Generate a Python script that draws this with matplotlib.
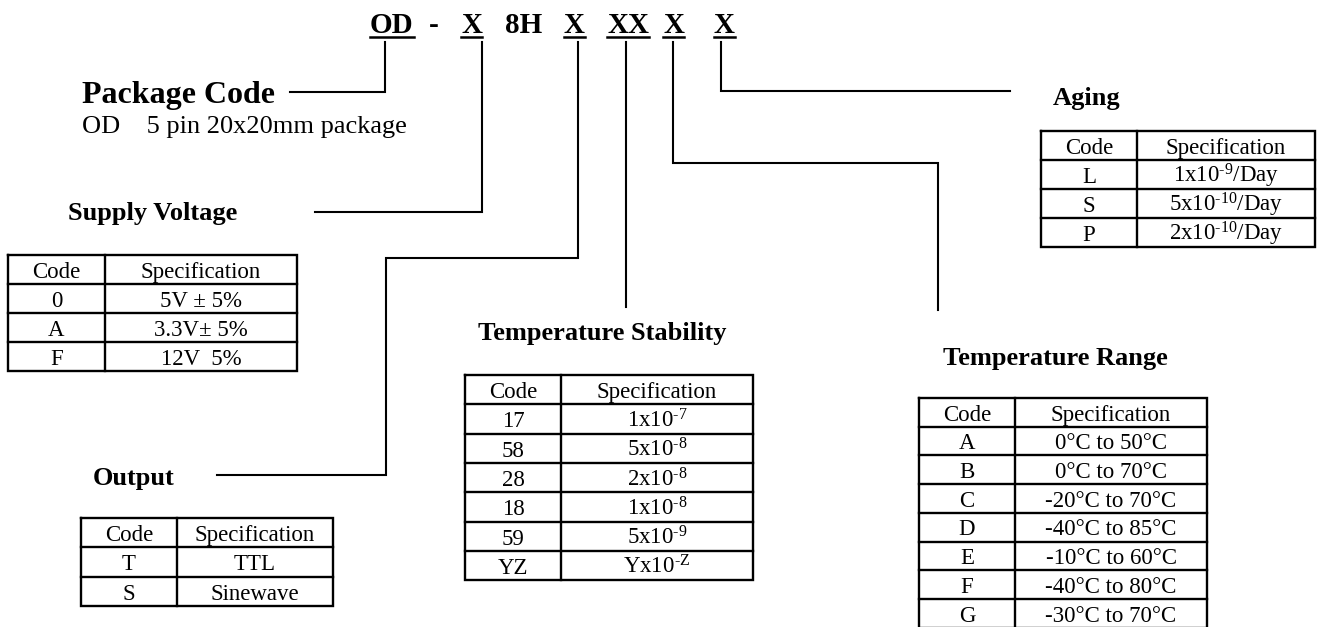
import matplotlib
matplotlib.use("Agg")
import matplotlib.pyplot as plt

plt.rcParams['font.family'] = ['Liberation Serif', 'DejaVu Serif']
plt.rcParams['mathtext.fontset'] = 'custom'
plt.rcParams['mathtext.rm'] = 'Liberation Serif'
plt.rcParams['mathtext.it'] = 'Liberation Serif:italic'
plt.rcParams['mathtext.bf'] = 'Liberation Serif:bold'

W, H = 1325, 627

# part number pieces and which ones are underlined
code_parts = ["OD", "-", "X", "8H", "X", "XX", "X", "X"]
code_underlined = [True, False, True, False, True, True, True, True]

package_title = "Package Code"
package_desc = "OD    5 pin 20x20mm package"

header = ["Code", "Specification"]

supply_codes = ["0", "A", "F"]
supply_specs = ["5V \u00b1 5%", "3.3V\u00b1 5%", "12V  5%"]

output_codes = ["T", "S"]
output_specs = ["TTL", "Sinewave"]

# superscript hyphen written as U+2010 so mathtext keeps it short
stab_codes = ["17", "58", "28", "18", "59", "YZ"]
stab_specs = ["1x10$^{\u20107}$", "5x10$^{\u20108}$", "2x10$^{\u20108}$",
              "1x10$^{\u20108}$", "5x10$^{\u20109}$", "Yx10$^{\u2010\\mathrm{Z}}$"]

range_codes = ["A", "B", "C", "D", "E", "F", "G"]
range_specs = ["0\u00b0C to 50\u00b0C", "0\u00b0C to 70\u00b0C",
               "-20\u00b0C to 70\u00b0C", "-40\u00b0C to 85\u00b0C",
               "-10\u00b0C to 60\u00b0C", "-40\u00b0C to 80\u00b0C",
               "-30\u00b0C to 70\u00b0C"]

aging_codes = ["L", "S", "P"]
aging_specs = ["1x10$^{\u20109}$/Day", "5x10$^{\u201010}$/Day",
               "2x10$^{\u201010}$/Day"]


def draw_table(ax, x0, xc, x1, y0, rh, codes, specs, fs=16.5):
    rows = [header] + [[c, s] for c, s in zip(codes, specs)]
    y1 = y0 + rh * len(rows)
    lw = 1.7
    ax.plot([x0, x1, x1, x0, x0], [y0, y0, y1, y1, y0], color='black', lw=lw,
            solid_joinstyle='miter')
    ax.plot([xc, xc], [y0, y1], color='black', lw=lw)
    for i in range(1, len(rows)):
        y = y0 + i * rh
        ax.plot([x0, x1], [y, y], color='black', lw=lw)
    for i, (c, s) in enumerate(rows):
        yb = y0 + i * rh + 0.79 * rh
        ax.text((x0 + xc) / 2, yb, c, ha='center', va='baseline', fontsize=fs)
        ax.text((xc + x1) / 2, yb, s, ha='center', va='baseline', fontsize=fs)


def main():
    fig = plt.figure(figsize=(W / 100, H / 100), dpi=100)
    ax = fig.add_axes([0, 0, 1, 1])
    ax.set_xlim(0, W)
    ax.set_ylim(H, 0)
    ax.axis('off')

    # part number along the top
    part_x = [370, 429, 461, 505, 564, 607, 663, 714]
    texts = []
    for x, p in zip(part_x, code_parts):
        texts.append(ax.text(x, 33, p, ha='left', va='baseline',
                             fontsize=21, fontweight='bold'))
    fig.canvas.draw()
    renderer = fig.canvas.get_renderer()
    inv = ax.transData.inverted()
    for t, u in zip(texts, code_underlined):
        if u:
            bb = t.get_window_extent(renderer)
            (xa, _), (xb, _) = inv.transform([[bb.x0, 0], [bb.x1, 0]])
            ax.plot([xa, xb], [37, 37], color='black', lw=1.8)

    # connector lines
    lines = [
        [(385, 42), (385, 92), (290, 92)],
        [(482, 42), (482, 212), (315, 212)],
        [(578, 42), (578, 258), (386, 258), (386, 475), (217, 475)],
        [(626, 42), (626, 307)],
        [(673, 42), (673, 163), (938, 163), (938, 310)],
        [(721, 42), (721, 91), (1010, 91)],
    ]
    for pts in lines:
        xs = [p[0] for p in pts]
        ys = [p[1] for p in pts]
        ax.plot(xs, ys, color='black', lw=1.5, solid_joinstyle='miter')

    # section titles
    ax.text(82, 103, package_title, ha='left', va='baseline', fontsize=23,
            fontweight='bold')
    ax.text(82, 133, package_desc, ha='left', va='baseline', fontsize=19)
    ax.text(68, 220, "Supply Voltage", ha='left', va='baseline', fontsize=19,
            fontweight='bold')
    ax.text(93, 485, "Output", ha='left', va='baseline', fontsize=19,
            fontweight='bold')
    ax.text(478, 340, "Temperature Stability", ha='left', va='baseline',
            fontsize=19, fontweight='bold')
    ax.text(943, 365, "Temperature Range", ha='left', va='baseline',
            fontsize=19, fontweight='bold')
    ax.text(1053, 105, "Aging", ha='left', va='baseline', fontsize=19,
            fontweight='bold')

    # tables
    draw_table(ax, 8, 105, 297, 255, 29, supply_codes, supply_specs)
    draw_table(ax, 81, 177, 333, 518, 29.3, output_codes, output_specs)
    draw_table(ax, 465, 561, 753, 375, 29.3, stab_codes, stab_specs)
    draw_table(ax, 919, 1015, 1207, 398, 28.7, range_codes, range_specs)
    draw_table(ax, 1041, 1137, 1315, 131, 29, aging_codes, aging_specs)

    fig.savefig("out.png", dpi=100)


if __name__ == "__main__":
    main()
